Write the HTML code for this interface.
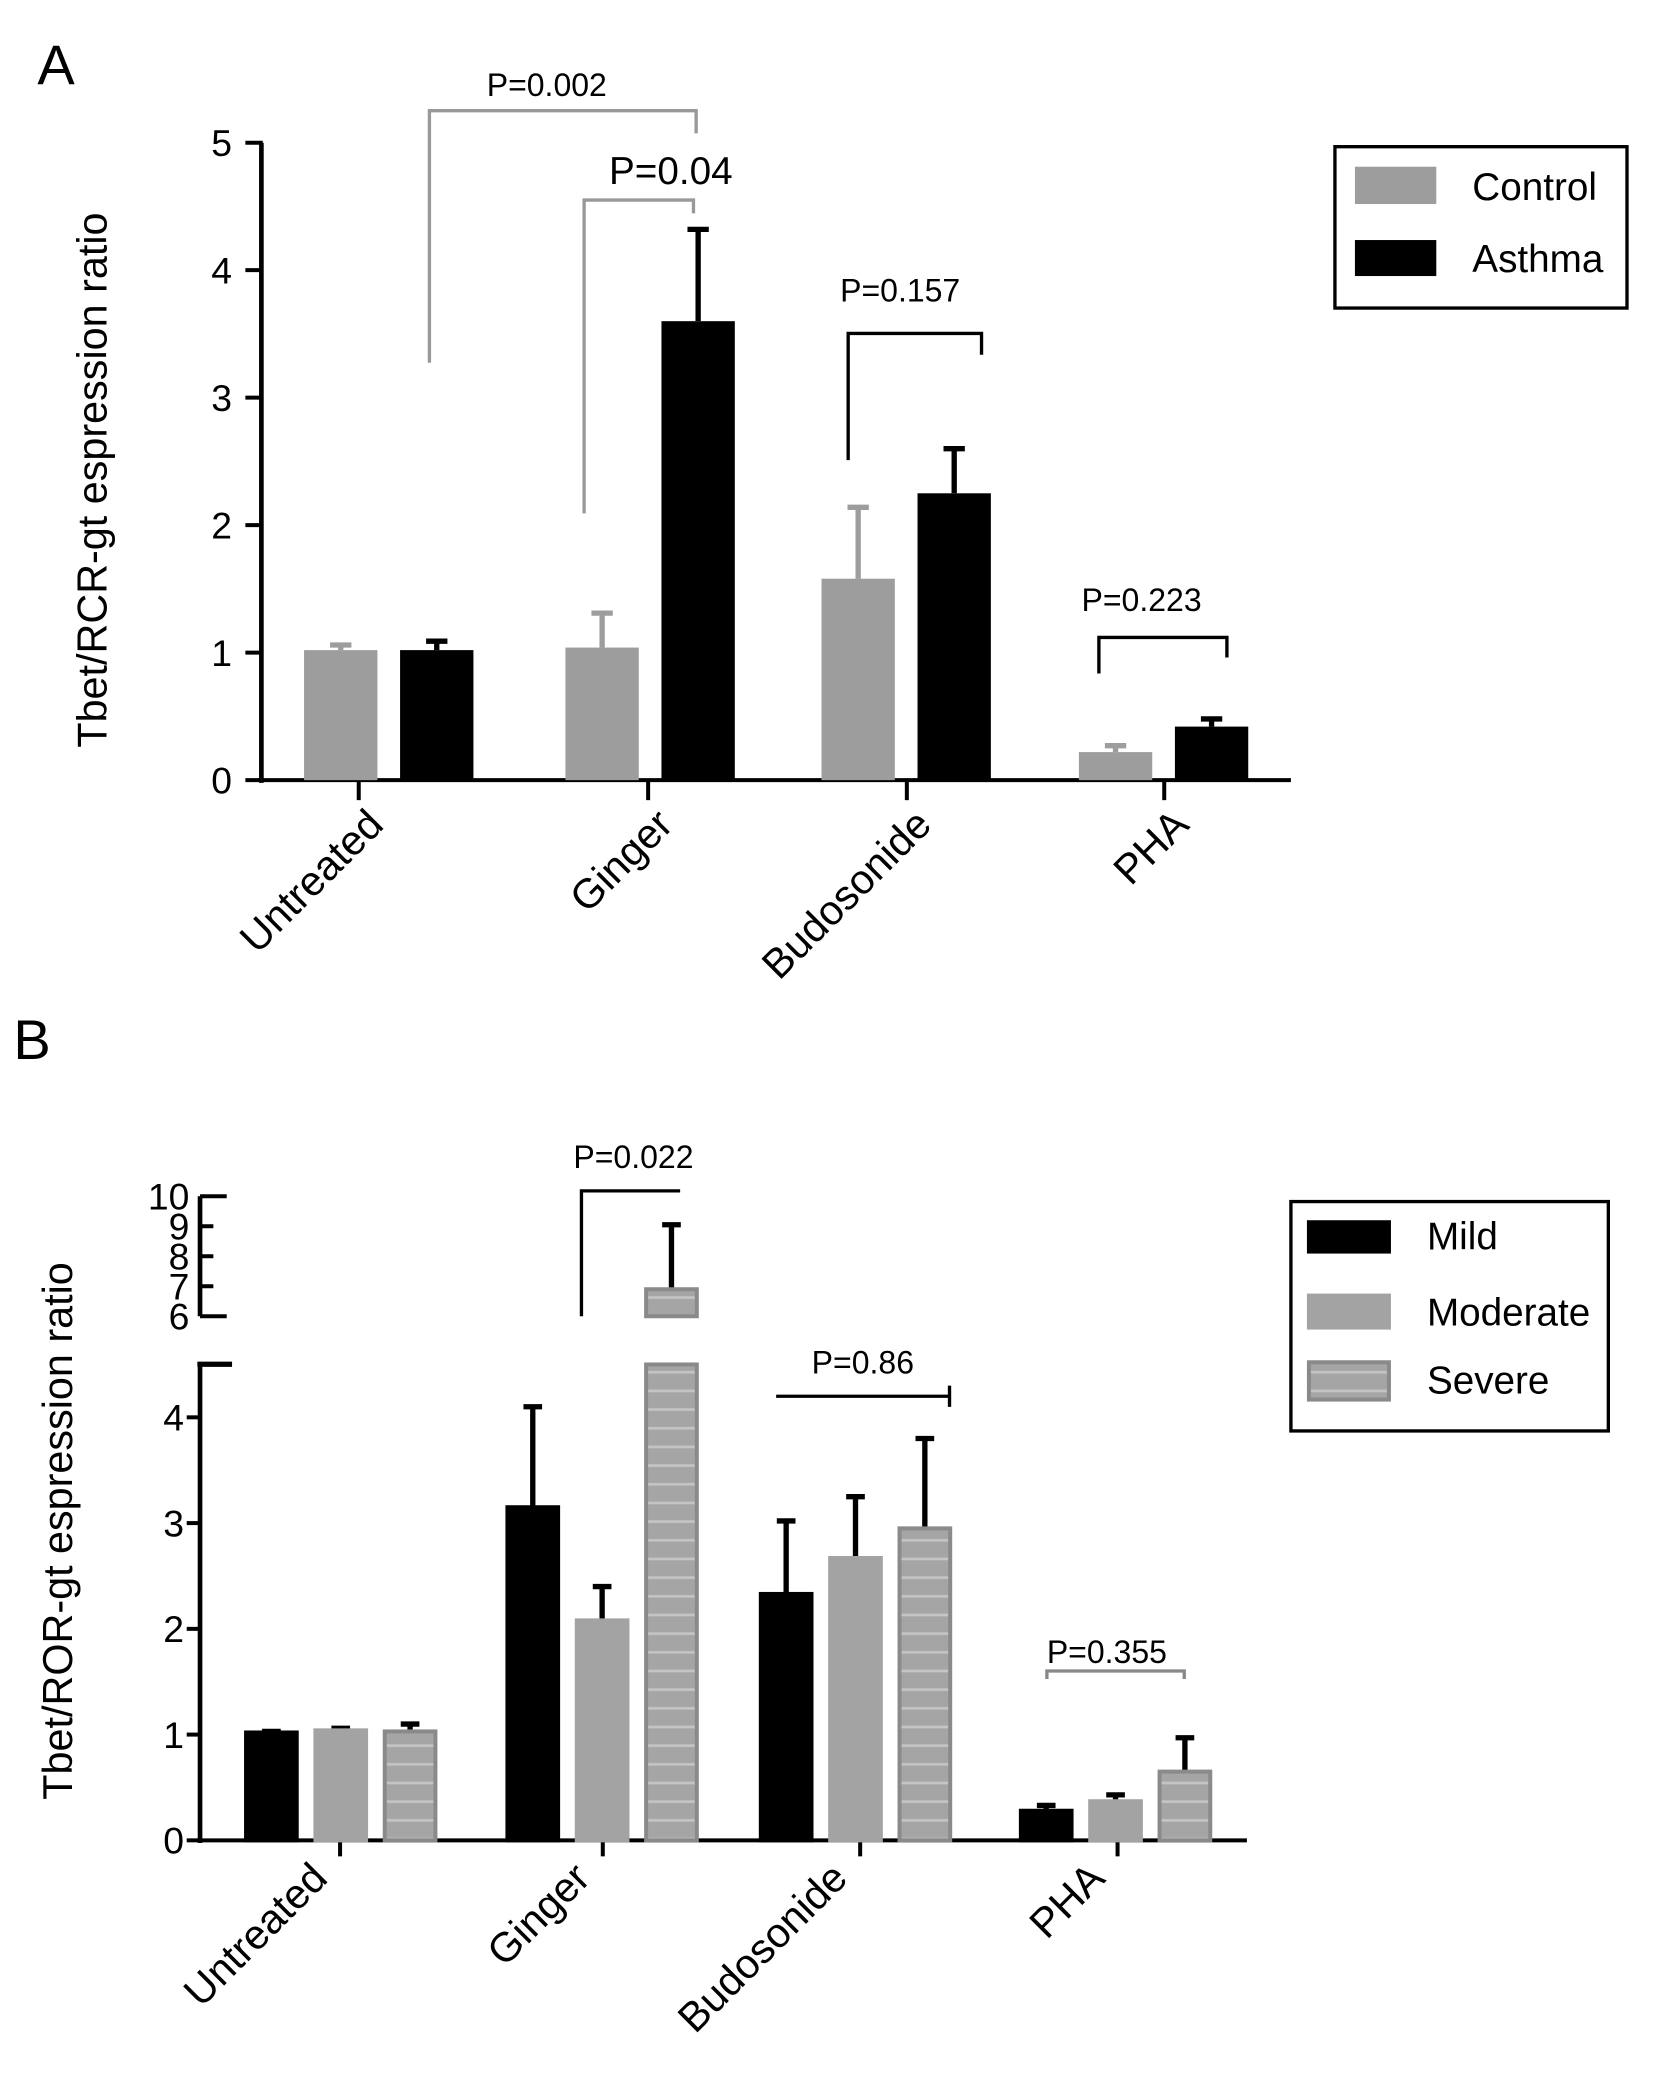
<!DOCTYPE html>
<html><head><meta charset="utf-8"><style>
html,body{margin:0;padding:0;background:#fff;}
svg{display:block;font-family:"Liberation Sans",Arial,sans-serif;}
</style></head><body>
<svg id="fig" width="1667" height="2100" viewBox="0 0 1250 1574.7" preserveAspectRatio="none" xmlns="http://www.w3.org/2000/svg">
<text x="28" y="63" font-size="42">A</text>
<text x="10" y="794" font-size="42">B</text>
<g id="gA"></g>
<g id="gB"></g>
</svg>
<script>
const categories = ["Untreated","Ginger","Budosonide","PHA"];
const aControl = [1.02,1.04,1.58,0.22];
const aControlErr = [1.06,1.31,2.14,0.27];
const aAsthma = [1.02,3.6,2.25,0.42];
const aAsthmaErr = [1.09,4.32,2.6,0.48];
const aTicks = [0,1,2,3,4,5];
const bMild = [1.02,3.15,2.33,0.28];
const bMildErr = [1.03,4.1,3.02,0.33];
const bModerate = [1.04,2.08,2.67,0.37];
const bModerateErr = [1.06,2.4,3.25,0.43];
const bSevere = [1.03,6.9,2.95,0.65];
const bSevereErr = [1.1,9.05,3.8,0.97];
const bTicksLow = [0,1,2,3,4];
const bTicksHigh = [6,7,8,9,10];
const NS="http://www.w3.org/2000/svg";
function mk(p,tag,at,txt){const e=document.createElementNS(NS,tag);for(const k in at)e.setAttribute(k,at[k]);if(txt!==undefined)e.textContent=txt;p.appendChild(e);return e;}

// ---------- Panel A ----------
const gA=document.getElementById('gA');
const yA=v=>585-v*95.6;
const groupA=[228,424,616,809];
const tickXA=[269,486,680,873];
mk(gA,'line',{x1:196,y1:107,x2:196,y2:587,stroke:'#000','stroke-width':3.5});
mk(gA,'line',{x1:194,y1:585,x2:968,y2:585,stroke:'#000','stroke-width':3});
aTicks.forEach(t=>{
  const l=mk(gA,'line',{x1:184,y1:yA(t),x2:197,y2:yA(t),stroke:'#000','stroke-width':3});
  
  
  const tx=mk(gA,'text',{x:174,y:yA(t)+10,'font-size':28,'text-anchor':'end'},t);
  
  
});
categories.forEach((c,i)=>{
  mk(gA,'line',{x1:tickXA[i],y1:585,x2:tickXA[i],y2:600,stroke:'#000','stroke-width':3});
  const gx=groupA[i];
  [[aControl,aControlErr,'#9d9d9d',gx,'bar-a-control'],[aAsthma,aAsthmaErr,'#000',gx+72,'bar-a-asthma']].forEach(([v,e,col,x,nm])=>{
    const w=55;
    const er=mk(gA,'path',{d:`M${x+w/2} ${yA(v[i])} V${yA(e[i])} M${x+w/2-8} ${yA(e[i])} H${x+w/2+8}`,stroke:col,'stroke-width':4,fill:'none'});
    
    
    const r=mk(gA,'rect',{x:x,y:yA(v[i]),width:w,height:yA(0)-yA(v[i]),fill:col});
    
    
  });
  const t=mk(gA,'text',{x:0,y:0,'font-size':31,'text-anchor':'end',transform:`translate(${tickXA[i]+20},${620}) rotate(-45)`},c);
  
  
});
const ylA=mk(gA,'text',{x:0,y:0,'font-size':31,'text-anchor':'middle',transform:'translate(80,360) rotate(-90)'},'Tbet/RCR-gt espression ratio');


// brackets A
mk(gA,'path',{d:'M322 272 V83 H522 V100',stroke:'#999','stroke-width':2.5,fill:'none'});
mk(gA,'text',{x:410,y:72,'font-size':24,'text-anchor':'middle'},'P=0.002');
mk(gA,'path',{d:'M438 385 V150 H520 V160',stroke:'#999','stroke-width':2.5,fill:'none'});
mk(gA,'text',{x:503,y:138,'font-size':29,'text-anchor':'middle'},'P=0.04');
mk(gA,'path',{d:'M636 345 V250 H736 V266',stroke:'#000','stroke-width':2.5,fill:'none'});
mk(gA,'text',{x:675,y:226,'font-size':24,'text-anchor':'middle'},'P=0.157');
mk(gA,'path',{d:'M824 505 V478 H920 V493',stroke:'#000','stroke-width':2.5,fill:'none'});
mk(gA,'text',{x:856,y:458,'font-size':24,'text-anchor':'middle'},'P=0.223');
// legend A
const lgA=mk(gA,'g',{});


mk(lgA,'rect',{x:1001,y:110,width:219,height:121,fill:'#fff',stroke:'#000','stroke-width':2.5});
mk(lgA,'rect',{x:1016,y:125,width:61,height:28,fill:'#9d9d9d'});
mk(lgA,'text',{x:1104,y:150,'font-size':29},'Control');
mk(lgA,'rect',{x:1016,y:180,width:61,height:27,fill:'#000'});
mk(lgA,'text',{x:1104,y:204,'font-size':29},'Asthma');

// ---------- Panel B ----------
const gB=document.getElementById('gB');
const yLow=v=>1380-v*79.3;
const yHigh=v=>987-(v-6)*22.5;
const yB=v=>v<=4.5?yLow(v):yHigh(v);
const groupB=[183,379,569,764];
const tickXB=[255,452,645,838];
const defs=mk(gB,'defs',{});
const pat=mk(defs,'pattern',{id:'stripe',width:10,height:14,patternUnits:'userSpaceOnUse'});
mk(pat,'rect',{x:0,y:0,width:10,height:14,fill:'#a5a5a5'});
mk(pat,'rect',{x:0,y:6,width:10,height:2,fill:'#c4c4c4'});
mk(gB,'line',{x1:150,y1:897,x2:150,y2:987,stroke:'#000','stroke-width':3.5});
mk(gB,'line',{x1:150,y1:1023,x2:150,y2:1382,stroke:'#000','stroke-width':3.5});
mk(gB,'line',{x1:148,y1:1380,x2:935,y2:1380,stroke:'#000','stroke-width':3});
mk(gB,'line',{x1:148,y1:1023,x2:174,y2:1023,stroke:'#000','stroke-width':4});
bTicksLow.forEach(t=>{
  const l=mk(gB,'line',{x1:140,y1:yLow(t),x2:151,y2:yLow(t),stroke:'#000','stroke-width':3});
  
  
  mk(gB,'text',{x:138,y:yLow(t)+10,'font-size':28,'text-anchor':'end'},t);
});
bTicksHigh.forEach(t=>{
  const l=mk(gB,'line',{x1:150,y1:yHigh(t),x2:(t==6||t==10)?170:160,y2:yHigh(t),stroke:'#000','stroke-width':3});
  
  
  mk(gB,'text',{x:142,y:yHigh(t)+10,'font-size':28,'text-anchor':'end'},t);
});
categories.forEach((c,i)=>{
  mk(gB,'line',{x1:tickXB[i],y1:1380,x2:tickXB[i],y2:1392,stroke:'#000','stroke-width':3});
  const gx=groupB[i];
  const sets=[[bMild,bMildErr,'#000','#000',gx,'bar-b-mild'],[bModerate,bModerateErr,'#a3a3a3','#a3a3a3',gx+52,'bar-b-moderate'],[bSevere,bSevereErr,'url(#stripe)','#8a8a8a',gx+104,'bar-b-severe']];
  sets.forEach(([v,e,fill,stroke,x,nm])=>{
    const w=41;
    const er=mk(gB,'path',{d:`M${x+w/2} ${yB(v[i])} V${yB(e[i])} M${x+w/2-7} ${yB(e[i])} H${x+w/2+7}`,stroke:'#000','stroke-width':4,fill:'none'});
    
    
    let r;
    if(v[i]>4.5){
      r=mk(gB,'g',{});
      mk(r,'rect',{x:x+1.5,y:yLow(4.5),width:w-3,height:yLow(0)-yLow(4.5),fill:fill,stroke:stroke,'stroke-width':3});
      mk(r,'rect',{x:x+1.5,y:yHigh(v[i]),width:w-3,height:yHigh(6)-yHigh(v[i]),fill:fill,stroke:stroke,'stroke-width':3});
    } else {
      r=mk(gB,'rect',{x:x+1.5,y:yB(v[i]),width:w-3,height:yLow(0)-yB(v[i]),fill:fill,stroke:stroke,'stroke-width':3});
    }
    
    
  });
  const t=mk(gB,'text',{x:0,y:0,'font-size':31,'text-anchor':'end',transform:`translate(${tickXB[i]-8},${1410}) rotate(-45)`},c);
  
  
});
const ylB=mk(gB,'text',{x:0,y:0,'font-size':31,'text-anchor':'middle',transform:'translate(54,1148) rotate(-90)'},'Tbet/ROR-gt espression ratio');


mk(gB,'path',{d:'M436 987 V893 H510',stroke:'#000','stroke-width':2.5,fill:'none'});
mk(gB,'text',{x:475,y:876,'font-size':24,'text-anchor':'middle'},'P=0.022');
mk(gB,'path',{d:'M582 1047 H712 M712 1039 V1055',stroke:'#000','stroke-width':2.5,fill:'none'});
mk(gB,'text',{x:647,y:1030,'font-size':24,'text-anchor':'middle'},'P=0.86');
mk(gB,'path',{d:'M785 1259 V1253 H888 V1259',stroke:'#888','stroke-width':2.5,fill:'none'});
mk(gB,'text',{x:830,y:1247,'font-size':24,'text-anchor':'middle'},'P=0.355');
const lgB=mk(gB,'g',{});


mk(lgB,'rect',{x:968,y:901,width:238,height:172,fill:'#fff',stroke:'#000','stroke-width':2.5});
mk(lgB,'rect',{x:980,y:915,width:63,height:25,fill:'#000'});
mk(lgB,'text',{x:1070,y:937,'font-size':29},'Mild');
mk(lgB,'rect',{x:980,y:970,width:63,height:27,fill:'#a3a3a3'});
mk(lgB,'text',{x:1070,y:994,'font-size':29},'Moderate');
mk(lgB,'rect',{x:981.5,y:1021.5,width:60,height:28,fill:'url(#stripe)',stroke:'#8a8a8a','stroke-width':3});
mk(lgB,'text',{x:1070,y:1045,'font-size':29},'Severe');
</script>
</body></html>
